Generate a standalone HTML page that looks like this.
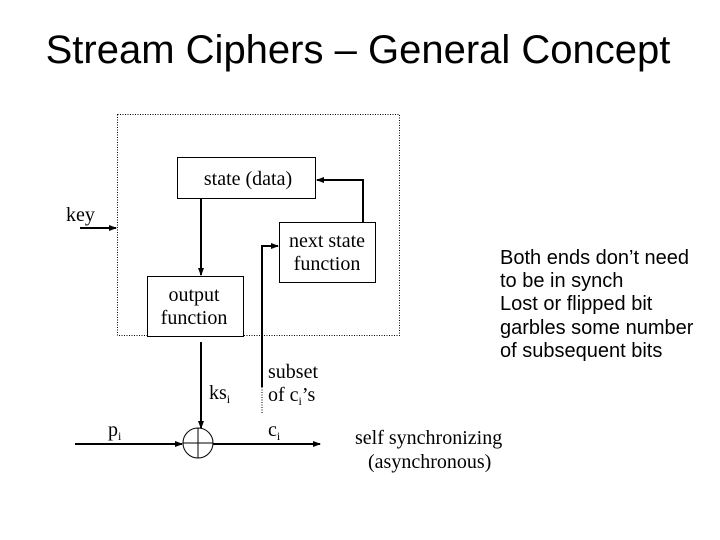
<!DOCTYPE html>
<html><head><meta charset="utf-8"><style>
body{margin:0;background:#fff}
svg{display:block}
.t{font-family:"Liberation Serif",serif;font-size:20px;fill:#000}
.a{font-family:"Liberation Sans",sans-serif;font-size:20px;fill:#000}
</style></head><body>
<svg width="720" height="540" viewBox="0 0 720 540">
<defs><marker id="ar" markerWidth="8" markerHeight="8" refX="7" refY="4" orient="auto" markerUnits="userSpaceOnUse"><path d="M0,1 L8,4 L0,7 Z" fill="#000"/></marker></defs>
<text x="358" y="63" text-anchor="middle" font-family="Liberation Sans,sans-serif" font-size="40">Stream Ciphers – General Concept</text>
<rect x="117.5" y="114.5" width="282" height="221" fill="none" stroke="#000" stroke-dasharray="1,1.5" stroke-width="1"/>
<rect x="177.5" y="157.5" width="138" height="41" fill="#fff" stroke="#000"/>
<text class="t" x="248" y="185" text-anchor="middle">state (data)</text>
<rect x="279.5" y="222.5" width="96" height="60" fill="#fff" stroke="#000"/>
<text class="t" x="327" y="247" text-anchor="middle">next state</text>
<text class="t" x="327" y="270" text-anchor="middle">function</text>
<rect x="147.5" y="276.5" width="96" height="60" fill="#fff" stroke="#000"/>
<text class="t" x="194" y="301" text-anchor="middle">output</text>
<text class="t" x="194" y="324" text-anchor="middle">function</text>
<g stroke="#000" stroke-width="2" fill="none">
<polyline points="363,222 363,180 317,180" marker-end="url(#ar)"/>
<line x1="201" y1="198" x2="201" y2="275" marker-end="url(#ar)"/>
<line x1="80" y1="228" x2="116" y2="228" marker-end="url(#ar)"/>
<line x1="201" y1="342" x2="201" y2="428" marker-end="url(#ar)"/>
<line x1="75" y1="444" x2="182" y2="444" marker-end="url(#ar)"/>
<line x1="213" y1="444" x2="320" y2="444" marker-end="url(#ar)"/>
<polyline points="262,387 262,246 278,246" marker-end="url(#ar)"/>
</g>
<line x1="262" y1="387" x2="262" y2="413" stroke="#000" stroke-dasharray="1,1.5"/>
<circle cx="198" cy="443" r="15" fill="none" stroke="#000"/>
<line x1="183" y1="443" x2="213" y2="443" stroke="#000"/>
<line x1="198" y1="428" x2="198" y2="458" stroke="#000"/>
<text class="t" x="66" y="221">key</text>
<text class="t" x="209" y="399">ks<tspan font-size="12" dy="4">i</tspan></text>
<text class="t" x="268" y="378">subset</text>
<text class="t" x="268" y="401">of c<tspan font-size="12" dy="4">i</tspan><tspan dy="-4">’s</tspan></text>
<text class="t" x="108" y="436">p<tspan font-size="12" dy="4">i</tspan></text>
<text class="t" x="268" y="436">c<tspan font-size="12" dy="4">i</tspan></text>
<text class="t" x="355" y="444">self synchronizing</text>
<text class="t" x="368" y="468">(asynchronous)</text>
<text class="a" x="500" y="264">Both ends don’t need</text>
<text class="a" x="500" y="287">to be in synch</text>
<text class="a" x="500" y="310">Lost or flipped bit</text>
<text class="a" x="500" y="334">garbles some number</text>
<text class="a" x="500" y="357">of subsequent bits</text>
</svg>
</body></html>
